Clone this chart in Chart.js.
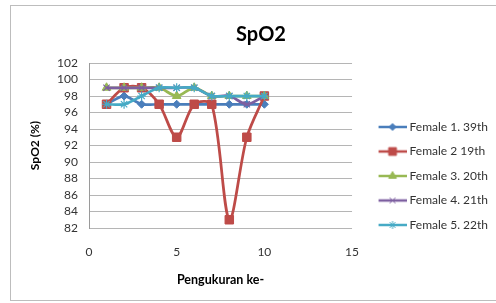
<!DOCTYPE html>
<html>
<head>
<meta charset="utf-8">
<script src="https://cdn.jsdelivr.net/npm/chart.js@4.4.1/dist/chart.umd.min.js"></script>
<style>
  html, body { margin: 0; padding: 0; background: #fff; }
  #wrap { position: absolute; left: 0; top: 0; width: 496px; height: 303px; }
</style>
</head>
<body>
<div id="wrap"><canvas id="c" width="496" height="303"></canvas></div>
<script>
const measurements = [1, 2, 3, 4, 5, 6, 7, 8, 9, 10];
const female1 = [97, 98, 97, 97, 97, 97, 97, 97, 97, 97];
const female2 = [97, 99, 99, 97, 93, 97, 97, 83, 93, 98];
const female3 = [99, 99, 99, 99, 98, 99, 98, 98, 98, 98];
const female4 = [99, 99, 99, 99, 99, 99, 98, 98, 97, 98];
const female5 = [97, 97, 98, 99, 99, 99, 98, 98, 98, 98];
const seriesNames = ['Female 1. 39th', 'Female 2 19th', 'Female 3. 20th', 'Female 4. 21th', 'Female 5. 22th'];
const yTicks = [82, 84, 86, 88, 90, 92, 94, 96, 98, 100, 102];
const xTicks = [0, 5, 10, 15];

const colors = ['#4A7EBB', '#BE4B48', '#98B954', '#7D5FA0', '#46AAC5'];
const markers = ['rectRot', 'rect', 'triangle', 'crossRot', 'star'];
const radii = [4, 6, 5, 4.5, 4.5];
const allSeries = [female1, female2, female3, female4, female5];
const FONT = 'Lato, "Open Sans", sans-serif';

function buildIcon(i) {
  const W = 45, H = 14;
  const cv = document.createElement('canvas');
  cv.width = W; cv.height = H;
  const ctx = cv.getContext('2d');
  const cy = H / 2;
  ctx.strokeStyle = colors[i];
  ctx.lineWidth = 2.5;
  ctx.beginPath();
  ctx.moveTo(17, cy); ctx.lineTo(45, cy);
  ctx.stroke();
  ctx.fillStyle = colors[i];
  ctx.strokeStyle = colors[i];
  ctx.lineWidth = 1;
  Chart.helpers.drawPoint(ctx, {
    pointStyle: markers[i], radius: radii[i] - 0.5, rotation: 0, borderWidth: 1
  }, 31, cy);
  return cv;
}

const icons = [0, 1, 2, 3, 4].map(buildIcon);

const datasets = allSeries.map((vals, i) => ({
  label: seriesNames[i],
  data: measurements.map((x, k) => ({ x: x, y: vals[k] })),
  borderColor: colors[i],
  backgroundColor: colors[i],
  borderWidth: 2.75,
  pointStyle: markers[i],
  pointRadius: radii[i],
  pointBorderWidth: i >= 3 ? 1.2 : 1,
  pointBackgroundColor: colors[i],
  pointBorderColor: colors[i],
  tension: 0.3,
  showLine: true,
  order: 5 - i
}));

const borderPlugin = {
  id: 'outerBorder',
  beforeDraw(chart) {
    const ctx = chart.ctx;
    ctx.save();
    ctx.fillStyle = '#fff';
    ctx.fillRect(0, 0, chart.width, chart.height);
    ctx.strokeStyle = '#BDBDBD';
    ctx.lineWidth = 1;
    ctx.strokeRect(10.5, 5.5, 490, 295);
    ctx.restore();
  }
};

new Chart(document.getElementById('c'), {
  type: 'scatter',
  data: { datasets },
  plugins: [borderPlugin],
  options: {
    responsive: false,
    animation: false,
    devicePixelRatio: 1,
    layout: { padding: { left: 24, right: -2, top: 8, bottom: 16 } },
    plugins: {
      tooltip: { enabled: false },
      title: {
        display: true,
        text: 'SpO2',
        color: '#000',
        font: { family: FONT, size: 20, weight: 'bold' },
        padding: { top: 15, bottom: 16 }
      },
      legend: {
        position: 'right',
        align: 'center',
        maxWidth: 220,
        title: {
          display: true,
          text: ' ',
          font: { family: FONT, size: 10 },
          padding: { top: 22.5, bottom: 22.5 }
        },
        labels: {
          usePointStyle: true,
          pointStyleWidth: 39,
          boxHeight: 12,
          padding: 12.5,
          color: '#333',
          font: { family: FONT, size: 12 },
          sort: (a, b) => a.datasetIndex - b.datasetIndex,
          generateLabels(chart) {
            return chart.data.datasets.map((ds, i) => ({
              text: ds.label,
              datasetIndex: i,
              pointStyle: icons[i],
              fillStyle: colors[i],
              strokeStyle: colors[i],
              lineWidth: 0,
              hidden: false,
              fontColor: '#333'
            }));
          }
        }
      }
    },
    scales: {
      x: {
        type: 'linear',
        min: 0, max: 15,
        afterBuildTicks(scale) { scale.ticks = xTicks.map(v => ({ value: v })); },
        afterFit(scale) { scale.height = 59; },
        grid: { display: false, drawTicks: false },
        border: { display: false },
        ticks: {
          padding: 17,
          autoSkip: false,
          maxRotation: 0,
          color: '#333',
          font: { family: FONT, size: 12 }
        },
        title: {
          display: true,
          text: 'Pengukuran ke-',
          color: '#000',
          font: { family: FONT, size: 12.5, weight: 'bold' },
          padding: { top: 0, bottom: 0 }
        }
      },
      y: {
        type: 'linear',
        min: 82, max: 102,
        afterBuildTicks(scale) { scale.ticks = yTicks.map(v => ({ value: v })); },
        afterFit(scale) { scale.width = 65; },
        grid: { color: '#B5B5B5', lineWidth: 1, drawTicks: false },
        border: { display: true, color: '#9A9A9A', width: 1 },
        ticks: {
          padding: 11,
          autoSkip: false,
          color: '#333',
          font: { family: FONT, size: 12 }
        },
        title: {
          display: true,
          text: 'SpO2 (%)',
          color: '#000',
          font: { family: FONT, size: 12, weight: 'bold' },
          padding: { top: 4, bottom: 4 }
        }
      }
    }
  }
});
</script>
</body>
</html>
